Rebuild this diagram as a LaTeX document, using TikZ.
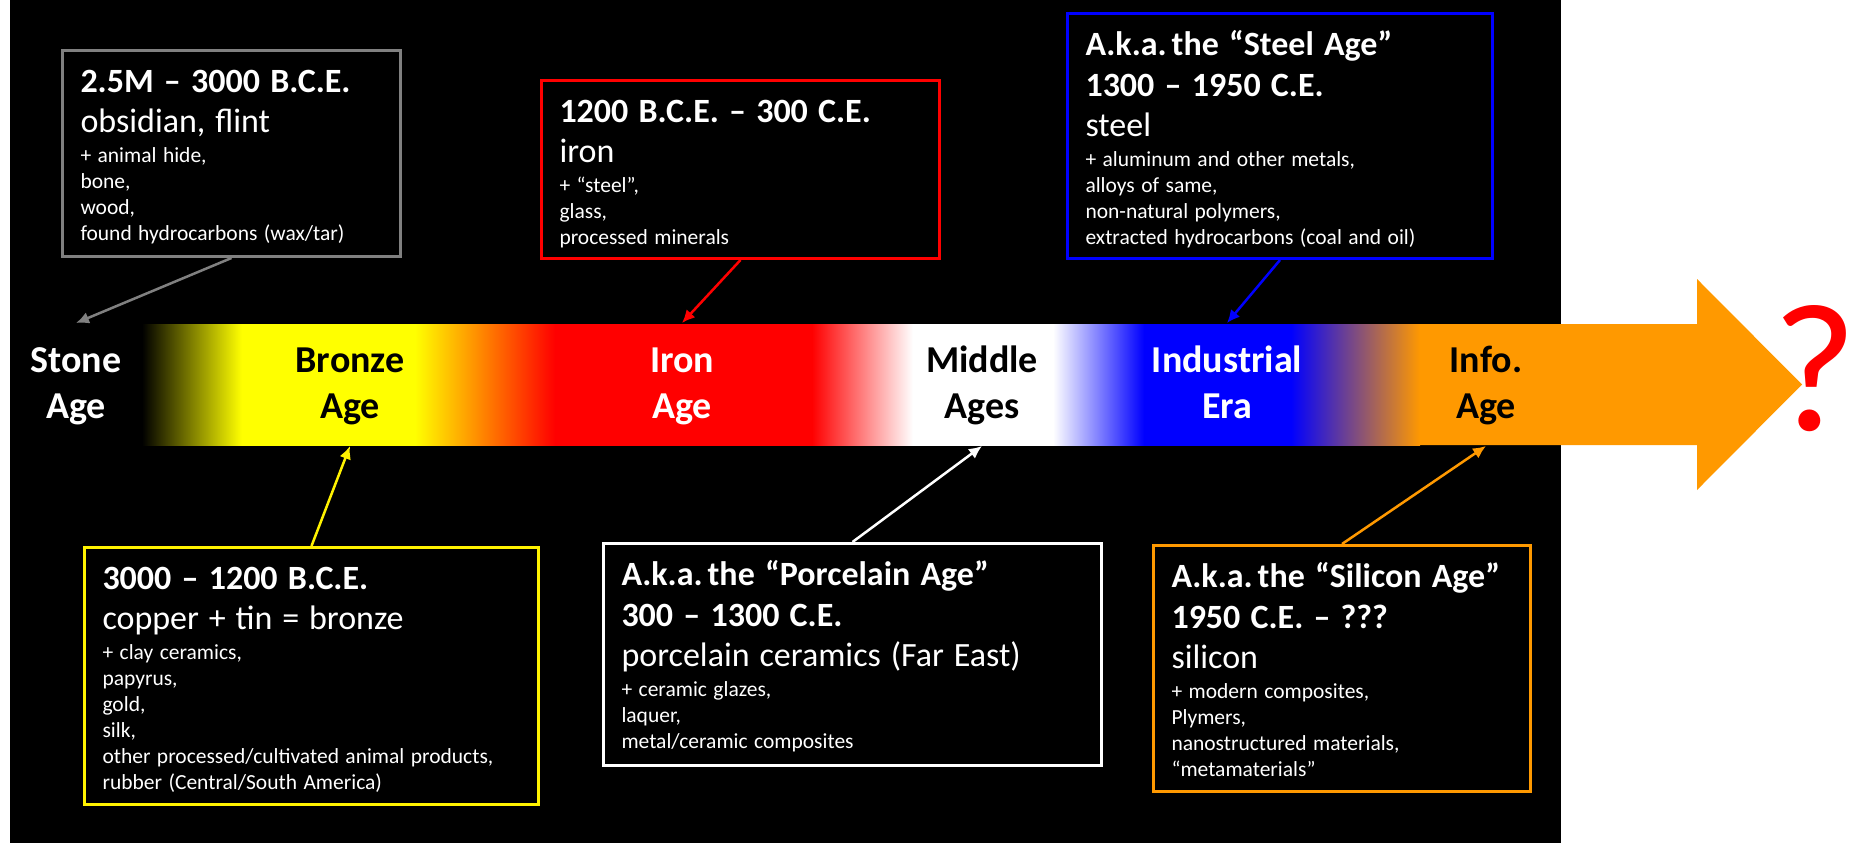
\documentclass[tikz,border=0pt]{standalone}
\usepackage{fontspec}
\setmainfont{Carlito}
\usepackage{tikz}
\usetikzlibrary{arrows.meta}
\definecolor{infoorange}{RGB}{255,153,0}
\definecolor{stonegray}{RGB}{128,128,128}
\pgfdeclarehorizontalshading{ages}{100bp}{color(0bp)=(black); color(25bp)=(black); color(28.9bp)=(yellow); color(35.68bp)=(yellow); color(41.16bp)=(red); color(51.21bp)=(red); color(55.16bp)=(white); color(60.64bp)=(white); color(64.2bp)=(blue); color(69.95bp)=(blue); color(75bp)=(infoorange); color(100bp)=(infoorange)}
\newcommand{\boxhead}{\bfseries\fontsize{34}{41}\selectfont\spaceskip=0.3em\relax}
\newcommand{\boxmat}{\fontsize{34}{40}\selectfont\spaceskip=0.29em\relax}
\newcommand{\boxsmall}{\fontsize{21.5}{26}\selectfont\spaceskip=0.3em\relax}
\tikzset{
	infobox/.style 2 args={draw=#1,line width=3pt,fill=black,text=white,anchor=north west,align=left,inner xsep=18pt,inner ysep=0pt,text height=42pt,text depth=#2},
	agelbl/.style={text=#1,font=\bfseries\fontsize{38}{46}\selectfont,align=center,text width=200pt,inner sep=0pt,anchor=base},
	conn/.style={draw=#1,line width=2.5pt,-{Latex[length=13pt,width=12pt]}}
}

\begin{document}
\begin{tikzpicture}[x=1pt,y=-1pt]
	\useasboundingbox (0,0) rectangle (1857,843);
	\fill[white] (0,0) rectangle (1857,843);
	\fill[black] (10,0) rectangle (1561,843);

	\fill[infoorange] (142,324) -- (1697,324) -- (1697,279) -- (1802,384.5) -- (1697,490) -- (1697,445) -- (142,445) -- cycle;
	\shade[shading=ages] (142,324) rectangle (1420,445);
	\coordinate (bandtop) at (0,323);
	\coordinate (bandbot) at (0,446);

	\node [agelbl=white] (stone) at (76,372) {Stone\\Age};
	\node [agelbl=black] (bronze) at (350,372) {Bronze\\Age};
	\node [agelbl=white] (iron) at (682,372) {Iron\\Age};
	\node [agelbl=black] (middle) at (982,372) {Middle\\Ages};
	\node [agelbl=white] (industrial) at (1227,372) {Industrial\\Era};
	\node [agelbl=black] (info) at (1486,372) {Info.\\Age};
	\node [text=red,font=\fontsize{183}{183}\selectfont,inner sep=0pt,anchor=base] (qmark) at (1815,430) {?};

	\node [infobox={stonegray}{164pt},text width=302pt] (stonebox) at (61,49) {{\boxhead 2.5M – 3000 B.C.E.\par}{\boxmat obsidian, flint\par}\vspace{4pt}{\boxsmall + animal hide,\\ bone,\\ wood,\\ found hydrocarbons (wax/tar)\par}};
	\node [infobox={red}{136pt},text width=362pt] (ironbox) at (540,79) {{\boxhead 1200 B.C.E. – 300 C.E.\par}{\boxmat iron\par}\vspace{4pt}{\boxsmall + “steel”,\\ glass,\\ processed minerals\par}};
	\node [infobox={blue}{203pt},text width=389pt] (industrialbox) at (1066,12) {{\boxhead A.k.a. the “Steel Age”\\ 1300 – 1950 C.E.\par}{\boxmat steel\par}\vspace{4pt}{\boxsmall + aluminum and other metals,\\ alloys of same,\\ non-natural polymers,\\ extracted hydrocarbons (coal and oil)\par}};
	\node [infobox={yellow}{215pt},text width=418pt] (bronzebox) at (83,546) {{\boxhead 3000 – 1200 B.C.E.\par}{\boxmat copper + tin = bronze\par}\vspace{4pt}{\boxsmall + clay ceramics,\\ papyrus,\\ gold,\\ silk,\\ other processed/cultivated animal products,\\ rubber (Central/South America)\par}};
	\node [infobox={white}{180pt},text width=462pt] (middlebox) at (602,542) {{\boxhead A.k.a. the “Porcelain Age”\\ 300 – 1300 C.E.\par}{\boxmat porcelain ceramics (Far East)\par}\vspace{4pt}{\boxsmall + ceramic glazes,\\ laquer,\\ metal/ceramic composites\par}};
	\node [infobox={infoorange}{204pt},text width=341pt] (infoagebox) at (1152,544) {{\boxhead A.k.a. the “Silicon Age”\\ 1950 C.E. – ???\par}{\boxmat silicon\par}\vspace{4pt}{\boxsmall + modern composites,\\ Plymers,\\ nanostructured materials,\\ “metamaterials”\par}};

	\draw [conn=stonegray] (stonebox.south) -- (stone |- bandtop);
	\draw [conn=red] (ironbox.south) -- (iron |- bandtop);
	\draw [conn=blue] (industrialbox.south) -- (industrial |- bandtop);
	\draw [conn=yellow] (bronzebox.north) -- (bronze |- bandbot);
	\draw [conn=white] (middlebox.north) -- (middle |- bandbot);
	\draw [conn=infoorange] (infoagebox.north) -- (info |- bandbot);
\end{tikzpicture}
\end{document}
